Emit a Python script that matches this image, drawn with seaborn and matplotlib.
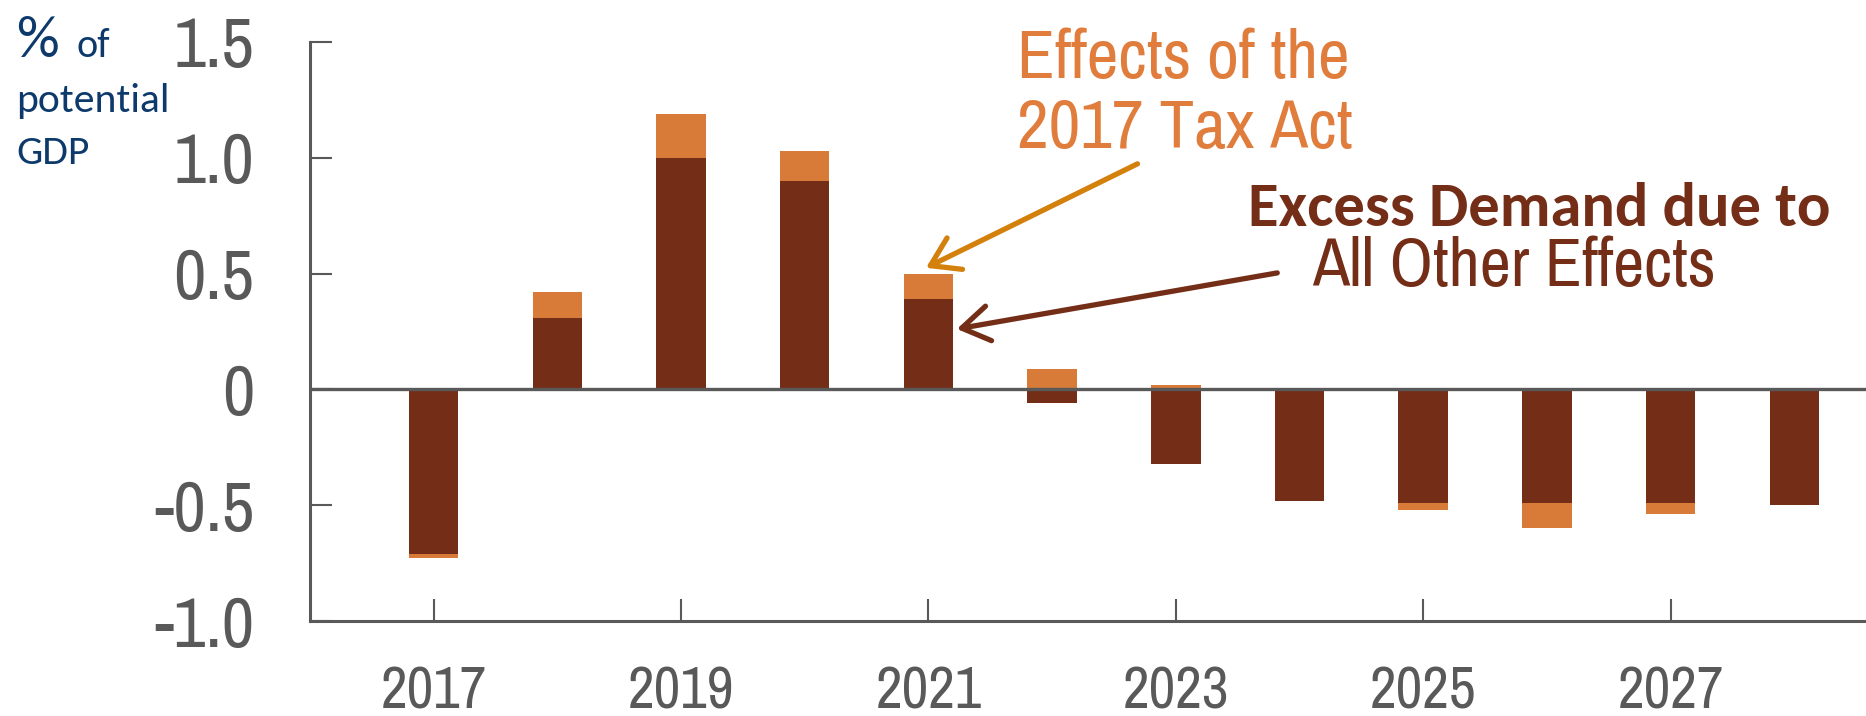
import seaborn as sns
import pandas as pd
import matplotlib
from matplotlib import pyplot as plt
from matplotlib import font_manager

matplotlib.use("Agg")

# values (% of potential GDP)
years = [2017, 2018, 2019, 2020, 2021, 2022, 2023, 2024, 2025, 2026, 2027, 2028]
other_effects = [-0.71, 0.31, 1.00, 0.90, 0.39, -0.06, -0.32, -0.48, -0.49, -0.49, -0.49, -0.50]
tax_act = [-0.02, 0.11, 0.19, 0.13, 0.11, 0.09, 0.02, 0.00, -0.03, -0.11, -0.05, 0.00]

x_ticks = [2017, 2019, 2021, 2023, 2025, 2027]
y_ticks = [1.5, 1.0, 0.5, 0, -0.5, -1.0]
y_tick_labels = ["1.5", "1.0", "0.5", "0", "-0.5", "-1.0"]

DARK = "#742d16"
ORANGE = "#d87a38"
ORANGE_TXT = "#e07d3c"
ORANGE_ARROW = "#d4800c"
GREY = "#595959"
NAVY = "#0d3a6b"


def pick(cands):
    names = {f.name for f in font_manager.fontManager.ttflist}
    for c in cands:
        if c in names:
            return c
    return "DejaVu Sans"


sns.set_theme(style="white")
NARROW = pick(["Liberation Sans Narrow", "Arial Narrow", "Archivo Narrow", "Roboto Condensed"])
CALIBRI = pick(["Carlito", "Calibri", "Open Sans"])
plt.rcParams["font.family"] = [NARROW, "DejaVu Sans"]

df = pd.DataFrame({"year": years, "other": other_effects, "tax": tax_act})
# stack the positive and the negative parts separately
df["pos"] = df["other"].clip(lower=0) + df["tax"].clip(lower=0)
df["neg"] = df["other"].clip(upper=0) + df["tax"].clip(upper=0)

W, H = 1866, 716
fig = plt.figure(figsize=(W / 100, H / 100), dpi=100)
ax = fig.add_axes([310 / W, 95 / H, (W - 310) / W, 579 / H])

for col in ["pos", "neg"]:
    sns.barplot(data=df, x="year", y=col, native_scale=True, width=0.4,
                color=ORANGE, saturation=1, errorbar=None, linewidth=0, ax=ax)
sns.barplot(data=df, x="year", y="other", native_scale=True, width=0.4,
            color=DARK, saturation=1, errorbar=None, linewidth=0, ax=ax)

ax.axhline(0, color=GREY, lw=2.4, zorder=3)

ax.set_xlim(2016, 2028.58)
ax.set_ylim(-1.0, 1.5)
ax.set_xticks(x_ticks)
ax.set_xticklabels([str(y) for y in x_ticks])
ax.set_yticks(y_ticks)
ax.set_yticklabels(y_tick_labels)
ax.set_xlabel("")
ax.set_ylabel("")

for side in ["top", "right"]:
    ax.spines[side].set_visible(False)
for side in ["left", "bottom"]:
    ax.spines[side].set_color(GREY)
    ax.spines[side].set_linewidth(2.2)

ax.tick_params(axis="both", direction="in", length=16, width=1.5, color=GREY,
               labelcolor=GREY, left=True, bottom=True)
ax.tick_params(axis="x", labelsize=42, pad=32)
ax.tick_params(axis="y", labelsize=51, pad=40)

# y axis title in the corner
fig.text(16 / W, 1 - 57 / H, "%", fontsize=43, color=NAVY, family=CALIBRI, va="baseline")
fig.text(76 / W, 1 - 57 / H, "of", fontsize=29, color=NAVY, family=CALIBRI, va="baseline")
fig.text(16 / W, 1 - 112 / H, "potential", fontsize=30, color=NAVY, family=CALIBRI, va="baseline")
fig.text(16 / W, 1 - 164 / H, "GDP", fontsize=30, color=NAVY, family=CALIBRI, va="baseline")

# annotations
ax.text(2021.72, 1.345, "Effects of the", fontsize=50, color=ORANGE_TXT,
        va="baseline", ha="left", clip_on=False)
ax.text(2021.72, 1.043, "2017 Tax Act", fontsize=50, color=ORANGE_TXT,
        va="baseline", ha="left", clip_on=False)
ax.text(2023.58, 0.706, "Excess Demand due to", fontsize=45, color=DARK,
        fontweight="bold", family=CALIBRI, va="baseline", ha="left")
ax.text(2024.10, 0.447, "All Other Effects", fontsize=49, color=DARK,
        va="baseline", ha="left")

ax.annotate("", xy=(2020.98, 0.525), xytext=(2022.69, 0.974),
            arrowprops=dict(arrowstyle="->,head_length=0.7,head_width=0.45",
                            mutation_scale=28, lw=3.8, color=ORANGE_ARROW,
                            shrinkA=0, shrinkB=0))
ax.annotate("", xy=(2021.23, 0.261), xytext=(2023.82, 0.503),
            arrowprops=dict(arrowstyle="->,head_length=0.7,head_width=0.45",
                            mutation_scale=28, lw=3.8, color=DARK,
                            shrinkA=0, shrinkB=0))

fig.savefig("out.png", dpi=100)
